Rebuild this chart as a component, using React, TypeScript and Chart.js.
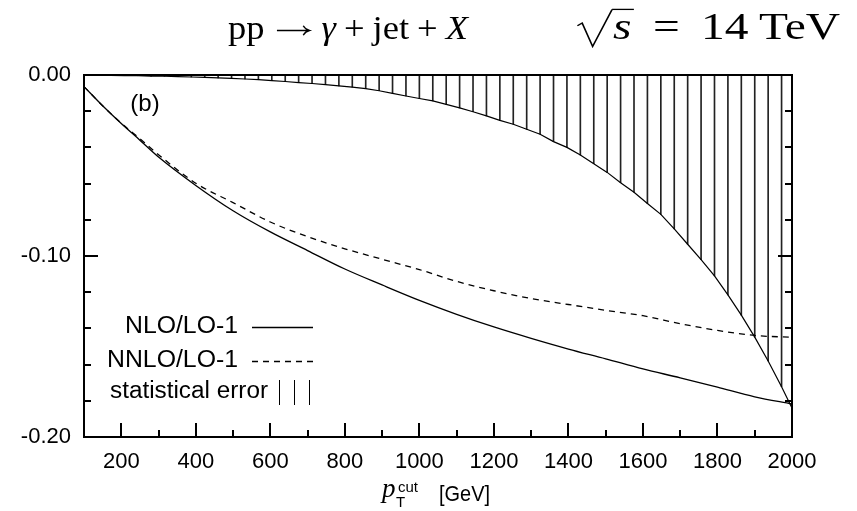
import React, { useEffect, useRef } from 'react';
import { Chart, registerables } from 'chart.js';

Chart.register(...registerables);

// ---- data ----
const ptValues = [100, 150, 200, 250, 300, 400, 500, 600, 700, 800, 900, 1000, 1100, 1200, 1300, 1400, 1500, 1600, 1700, 1800, 1900, 2000];
const nloMinusOne = [-0.0064, -0.0170, -0.0268, -0.0360, -0.0453, -0.0610, -0.0750, -0.0867, -0.0970, -0.1072, -0.1160, -0.1245, -0.1322, -0.1392, -0.1455, -0.1514, -0.1568, -0.1624, -0.1673, -0.1725, -0.1778, -0.1818];
const nnloMinusOne = [-0.0064, -0.0170, -0.0266, -0.0352, -0.0440, -0.0598, -0.0705, -0.0812, -0.0893, -0.0960, -0.1018, -0.1075, -0.1140, -0.1192, -0.1235, -0.1268, -0.1300, -0.1330, -0.1374, -0.1411, -0.1439, -0.1449];

const errPt = [100, 136, 172, 208, 244, 280, 316, 352, 388, 424, 460, 496, 532, 568, 604, 640, 676, 712, 748, 784, 820, 856, 892, 928, 964, 1000, 1036, 1072, 1108, 1144, 1180, 1216, 1252, 1288, 1324, 1360, 1396, 1432, 1468, 1504, 1540, 1576, 1612, 1648, 1684, 1720, 1756, 1792, 1828, 1864, 1900, 1936, 1972, 2000];
const errEdge = [0, -0.0001, -0.0002, -0.0003, -0.0004, -0.0006, -0.0007, -0.0009, -0.0011, -0.0013, -0.0016, -0.0019, -0.0022, -0.0026, -0.0031, -0.0036, -0.0042, -0.0047, -0.0053, -0.0060, -0.0067, -0.0075, -0.0087, -0.0102, -0.0116, -0.0130, -0.0143, -0.0162, -0.0182, -0.0203, -0.0226, -0.0251, -0.0272, -0.0300, -0.0327, -0.0368, -0.0400, -0.0442, -0.0490, -0.0538, -0.0595, -0.0648, -0.0710, -0.0770, -0.0850, -0.0935, -0.1020, -0.1110, -0.1215, -0.1327, -0.1448, -0.1580, -0.1722, -0.1840];

const xTickLabels = [200, 400, 600, 800, 1000, 1200, 1400, 1600, 1800, 2000];
const xMinorTicks = [300, 500, 700, 900, 1100, 1300, 1500, 1700, 1900];
const yTickLabels = [0, -0.1, -0.2];
const yMinorTicks = [-0.02, -0.04, -0.06, -0.08, -0.12, -0.14, -0.16, -0.18];

const legendLabels = ['NLO/LO-1', 'NNLO/LO-1', 'statistical error'];
const panelLabel = '(b)';

const SANS = '"Liberation Sans", Arial, sans-serif';
const SERIF = '"Liberation Serif", "Times New Roman", serif';

type Piece = { t?: string; italic?: boolean; gap?: number; radical?: boolean; arrow?: boolean; over?: boolean };

function drawMathRun(ctx: CanvasRenderingContext2D, pieces: Piece[], x0: number, x1: number, base: number, S: number) {
  const widths: number[] = [];
  let total = 0;
  for (const p of pieces) {
    total += (p.gap || 0) * S;
    let w = 0;
    if (p.radical) w = 0.78 * S;
    else if (p.arrow) w = 1.0 * S;
    else {
      ctx.font = `${p.italic ? 'italic ' : ''}${S}px ${SERIF}`;
      w = ctx.measureText(p.t || '').width;
    }
    widths.push(w);
    total += w;
  }
  const sx = (x1 - x0) / total;
  ctx.save();
  ctx.translate(x0, base);
  ctx.scale(sx, 1);
  ctx.fillStyle = '#000';
  ctx.strokeStyle = '#000';
  ctx.textBaseline = 'alphabetic';
  ctx.textAlign = 'left';
  let x = 0;
  let radStart = -1;
  pieces.forEach((p, i) => {
    x += (p.gap || 0) * S;
    if (p.radical) {
      radStart = x;
      ctx.lineWidth = 1.3;
      ctx.beginPath();
      ctx.moveTo(x + 0.03 * S, -0.36 * S);
      ctx.lineTo(x + 0.13 * S, -0.43 * S);
      ctx.lineTo(x + 0.35 * S, 0.2 * S);
      ctx.lineTo(x + 0.76 * S, -0.8 * S);
      ctx.stroke();
    } else if (p.arrow) {
      const y = -0.25 * S;
      ctx.lineWidth = 1.3;
      ctx.beginPath();
      ctx.moveTo(x + 0.06 * S, y);
      ctx.lineTo(x + 0.94 * S, y);
      ctx.moveTo(x + 0.78 * S, y - 0.14 * S);
      ctx.quadraticCurveTo(x + 0.84 * S, y - 0.03 * S, x + 0.95 * S, y);
      ctx.quadraticCurveTo(x + 0.84 * S, y + 0.03 * S, x + 0.78 * S, y + 0.14 * S);
      ctx.stroke();
    } else {
      ctx.font = `${p.italic ? 'italic ' : ''}${S}px ${SERIF}`;
      ctx.fillText(p.t || '', x, 0);
      if (p.over && radStart >= 0) {
        ctx.lineWidth = 1.3;
        ctx.beginPath();
        ctx.moveTo(radStart + 0.76 * S, -0.8 * S);
        ctx.lineTo(x + widths[i] + 0.05 * S, -0.8 * S);
        ctx.stroke();
      }
    }
    x += widths[i];
  });
  ctx.restore();
}

function fitText(ctx: CanvasRenderingContext2D, text: string, xRight: number, y: number, font: string, width?: number) {
  ctx.font = font;
  const w = ctx.measureText(text).width;
  const sx = width ? width / w : 1;
  ctx.save();
  ctx.translate(xRight - w * sx, y);
  ctx.scale(sx, 1);
  ctx.textAlign = 'left';
  ctx.textBaseline = 'middle';
  ctx.fillStyle = '#000';
  ctx.fillText(text, 0, 0);
  ctx.restore();
}

const framePlugin = {
  id: 'frame',
  afterDraw(chart: any) {
    const ctx: CanvasRenderingContext2D = chart.ctx;
    const { left, right, top, bottom } = chart.chartArea;
    const xs = chart.scales.x;
    const ys = chart.scales.y;
    ctx.save();
    ctx.strokeStyle = '#000';
    ctx.lineWidth = 2;
    ctx.beginPath();
    for (const v of xTickLabels) {
      const px = Math.round(xs.getPixelForValue(v));
      ctx.moveTo(px, bottom);
      ctx.lineTo(px, bottom - 14);
    }
    for (const v of xMinorTicks) {
      const px = Math.round(xs.getPixelForValue(v));
      ctx.moveTo(px, bottom);
      ctx.lineTo(px, bottom - 7);
    }
    for (const v of yTickLabels) {
      const py = Math.round(ys.getPixelForValue(v));
      ctx.moveTo(left, py);
      ctx.lineTo(left + 14, py);
      ctx.moveTo(right, py);
      ctx.lineTo(right - 14, py);
    }
    for (const v of yMinorTicks) {
      const py = Math.round(ys.getPixelForValue(v));
      ctx.moveTo(left, py);
      ctx.lineTo(left + 7, py);
      ctx.moveTo(right, py);
      ctx.lineTo(right - 7, py);
    }
    ctx.stroke();
    ctx.strokeRect(left, top, right - left, bottom - top);

    // panel label
    ctx.fillStyle = '#000';
    ctx.font = `24px ${SANS}`;
    ctx.textAlign = 'center';
    ctx.textBaseline = 'middle';
    ctx.fillText(panelLabel, 145, 104);

    // legend
    fitText(ctx, legendLabels[0], 238, 327, `23px ${SANS}`, 113);
    fitText(ctx, legendLabels[1], 238, 361, `23px ${SANS}`, 131);
    fitText(ctx, legendLabels[2], 268, 392, `23px ${SANS}`, 158);
    ctx.lineWidth = 1.3;
    ctx.beginPath();
    ctx.moveTo(252, 327.5);
    ctx.lineTo(313, 327.5);
    ctx.stroke();
    ctx.setLineDash([6, 5]);
    ctx.beginPath();
    ctx.moveTo(252, 361.5);
    ctx.lineTo(313, 361.5);
    ctx.stroke();
    ctx.setLineDash([]);
    ctx.lineWidth = 1;
    ctx.beginPath();
    for (const bx of [279.5, 294.5, 309.5]) {
      ctx.moveTo(bx, 380);
      ctx.lineTo(bx, 405);
    }
    ctx.stroke();

    // x-axis title
    ctx.textAlign = 'left';
    ctx.textBaseline = 'alphabetic';
    ctx.font = `italic 27px ${SERIF}`;
    ctx.fillText('p', 382, 497);
    ctx.font = `15px ${SANS}`;
    ctx.fillText('cut', 398, 492);
    ctx.fillText('T', 396, 507);
    ctx.font = `22px ${SANS}`;
    const gw = ctx.measureText('[GeV]').width;
    ctx.save();
    ctx.translate(439, 501);
    ctx.scale(51 / gw, 1);
    ctx.fillText('[GeV]', 0, 0);
    ctx.restore();

    // title
    drawMathRun(ctx, [
      { t: 'pp' },
      { arrow: true, gap: 0.28 },
      { t: 'γ', italic: true, gap: 0.28 },
      { t: '+', gap: 0.22 },
      { t: 'jet', gap: 0.22 },
      { t: '+', gap: 0.22 },
      { t: 'X', italic: true, gap: 0.22 },
    ], 228, 468, 39, 34);
    drawMathRun(ctx, [
      { radical: true },
      { t: 's', italic: true, over: true },
      { t: '=', gap: 0.45 },
      { t: '14', gap: 0.45 },
      { t: 'TeV', gap: 0.22 },
    ], 576, 840, 39, 37);
    ctx.restore();
  },
};

export default function App() {
  const ref = useRef<HTMLCanvasElement | null>(null);
  useEffect(() => {
    const canvas = ref.current;
    if (!canvas) return;
    const chart = new Chart(canvas, {
      type: 'line',
      data: {
        datasets: [
          {
            type: 'bar',
            label: legendLabels[2],
            data: errPt.map((x, i) => ({ x, y: [errEdge[i], 0] })) as any,
            backgroundColor: '#222',
            borderWidth: 0,
            barThickness: 1,
            order: 4,
          } as any,
          {
            type: 'line',
            label: 'error edge',
            data: errPt.map((x, i) => ({ x, y: errEdge[i] })),
            borderColor: '#000',
            borderWidth: 1.2,
            pointRadius: 0,
            tension: 0,
            order: 3,
          },
          {
            type: 'line',
            label: legendLabels[0],
            data: ptValues.map((x, i) => ({ x, y: nloMinusOne[i] })),
            borderColor: '#000',
            borderWidth: 1.3,
            pointRadius: 0,
            cubicInterpolationMode: 'monotone',
            order: 2,
          },
          {
            type: 'line',
            label: legendLabels[1],
            data: ptValues.map((x, i) => ({ x, y: nnloMinusOne[i] })),
            borderColor: '#000',
            borderWidth: 1.3,
            borderDash: [6, 5],
            pointRadius: 0,
            cubicInterpolationMode: 'monotone',
            order: 1,
          },
        ],
      },
      options: {
        responsive: false,
        animation: false,
        devicePixelRatio: 1,
        layout: { padding: { left: 0, right: 65, top: 75, bottom: 0 } },
        plugins: { legend: { display: false }, tooltip: { enabled: false }, title: { display: false } },
        scales: {
          x: {
            type: 'linear',
            min: 100,
            max: 2000,
            offset: false,
            grid: { display: false, drawTicks: false },
            border: { display: false },
            afterBuildTicks: (s: any) => {
              s.ticks = xTickLabels.map((v) => ({ value: v }));
            },
            afterFit: (s: any) => {
              s.height = 74;
            },
            ticks: {
              color: '#000',
              font: { family: SANS, size: 22 },
              padding: 12,
              maxRotation: 0,
              autoSkip: false,
              callback: (v: any) => String(v),
            },
          },
          y: {
            type: 'linear',
            min: -0.2,
            max: 0,
            grid: { display: false, drawTicks: false },
            border: { display: false },
            afterBuildTicks: (s: any) => {
              s.ticks = yTickLabels.map((v) => ({ value: v }));
            },
            afterFit: (s: any) => {
              s.width = 84;
            },
            ticks: {
              color: '#000',
              font: { family: SANS, size: 22 },
              padding: 13,
              callback: (v: any) => Number(v).toFixed(2),
            },
          },
        },
      },
      plugins: [framePlugin],
    } as any);
    return () => chart.destroy();
  }, []);
  return (
    <div style={{ position: 'absolute', left: 0, top: 0, width: 857, height: 511, background: '#fff' }}>
      <canvas ref={ref} width={857} height={511} style={{ display: 'block', width: 857, height: 511 }} />
    </div>
  );
}
